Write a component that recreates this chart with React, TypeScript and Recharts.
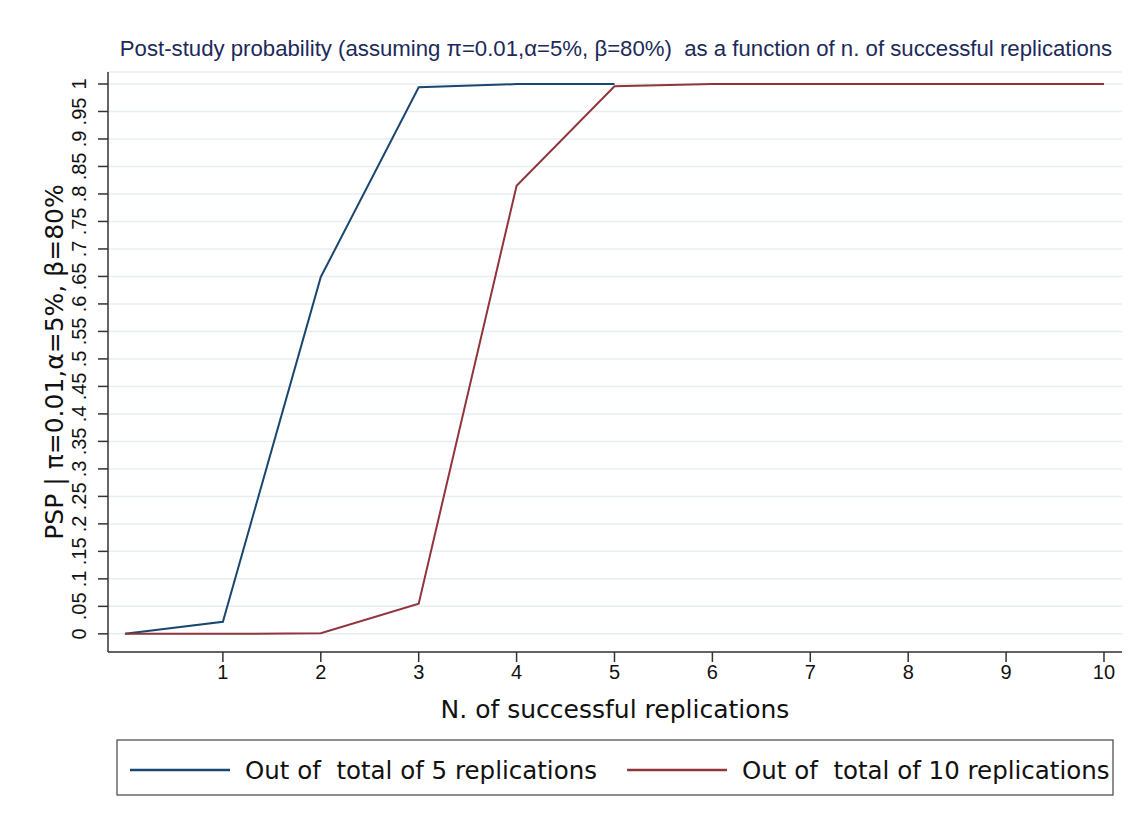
import React from "react";
import { LineChart, Line, XAxis, YAxis, CartesianGrid } from "recharts";

// ---- data ----
const xValues = [0, 1, 2, 3, 4, 5, 6, 7, 8, 9, 10];
const psp5 = [0, 0.022, 0.649, 0.994, 0.9998, 1.0];
const psp10 = [0, 0.0001, 0.001, 0.055, 0.815, 0.996, 1.0, 1.0, 1.0, 1.0, 1.0];
const xTicks = [1, 2, 3, 4, 5, 6, 7, 8, 9, 10];
const yTicks = [0, 0.05, 0.1, 0.15, 0.2, 0.25, 0.3, 0.35, 0.4, 0.45, 0.5, 0.55, 0.6, 0.65, 0.7, 0.75, 0.8, 0.85, 0.9, 0.95, 1];
const yTickLabels = ["0", ".05", ".1", ".15", ".2", ".25", ".3", ".35", ".4", ".45", ".5", ".55", ".6", ".65", ".7", ".75", ".8", ".85", ".9", ".95", "1"];
const seriesNames = ["Out of  total of 5 replications", "Out of  total of 10 replications"];
const seriesKeys = ["five", "ten"];
const seriesColors = ["#1a476f", "#90353b"];
const titleText = "Post-study probability (assuming \u03c0=0.01,\u03b1=5%, \u03b2=80%)  as a function of n. of successful replications";
const xTitle = "N. of successful replications";
const yTitle = "PSP | \u03c0=0.01,\u03b1=5%, \u03b2=80%";

const data = xValues.map((x, i) => ({ x, five: psp5[i], ten: psp10[i] }));

const W = 1143;
const H = 831;
const ARIAL = "'Liberation Sans', Arial, Helvetica, sans-serif";
const WIDE = "'DejaVu Sans', Verdana, sans-serif";
const AXIS = "#333333";

const YTick = (props: any) => {
  const { x, y, payload } = props;
  const label = yTickLabels[yTicks.indexOf(payload.value)];
  return (
    <text
      transform={`translate(${x - 10},${y}) rotate(-90)`}
      textAnchor="middle"
      fontFamily={ARIAL}
      fontSize={20}
      fill="#111"
    >
      {label}
    </text>
  );
};

const XTick = (props: any) => {
  const { x, y, payload } = props;
  return (
    <text x={x} y={y + 15} textAnchor="middle" fontFamily={ARIAL} fontSize={20} fill="#111">
      {String(payload.value)}
    </text>
  );
};

const YLabel = (props: any) => {
  const vb = props.viewBox || { x: 8, y: 72, width: 100, height: 580 };
  const cx = vb.x + 55;
  const cy = vb.y + vb.height / 2;
  return (
    <text
      transform={`translate(${cx},${cy}) rotate(-90)`}
      textAnchor="middle"
      fontFamily={WIDE}
      fontSize={25}
      fill="#111"
    >
      {yTitle}
    </text>
  );
};

const XLabel = (props: any) => {
  const vb = props.viewBox || { x: 108, y: 652, width: 1014, height: 75 };
  return (
    <text
      x={vb.x + vb.width / 2}
      y={vb.y + 66}
      textAnchor="middle"
      fontFamily={WIDE}
      fontSize={25}
      fill="#111"
    >
      {xTitle}
    </text>
  );
};

const legendItemLeft = [13, 510];

export default function App() {
  return (
    <div style={{ position: "absolute", left: 0, top: 0, width: W, height: H, background: "#fff" }}>
      <LineChart
        width={W}
        height={H}
        data={data}
        margin={{ top: 72, right: 21, bottom: 104, left: 8 }}
      >
        <CartesianGrid horizontal={true} vertical={false} stroke="#e8eef0" strokeWidth={1.5} />
        <XAxis
          dataKey="x"
          type="number"
          domain={[-0.1736, 10.184]}
          allowDataOverflow={true}
          ticks={xTicks}
          interval={0}
          height={75}
          tickSize={10}
          tickMargin={2}
          stroke={AXIS}
          strokeWidth={1.5}
          tick={<XTick />}
          label={<XLabel />}
        />
        <YAxis
          type="number"
          domain={[-0.033, 1.0218]}
          allowDataOverflow={true}
          ticks={yTicks}
          interval={0}
          width={100}
          tickSize={10}
          stroke={AXIS}
          strokeWidth={1.5}
          tick={<YTick />}
          label={<YLabel />}
        />
        {seriesKeys.map((k, i) => (
          <Line
            key={k}
            type="linear"
            dataKey={k}
            stroke={seriesColors[i]}
            strokeWidth={2}
            dot={false}
            activeDot={false}
            isAnimationActive={false}
          />
        ))}
      </LineChart>
      <svg
        width={W}
        height={H}
        style={{ position: "absolute", left: 0, top: 0, pointerEvents: "none" }}
      >
        <text
          x={616}
          y={56}
          textAnchor="middle"
          fontFamily={ARIAL}
          fontSize={22.2}
          fill="#1c2a5a"
          style={{ whiteSpace: "pre" }}
        >
          {titleText}
        </text>
        <g transform="translate(117,740)">
          <rect x={0} y={0} width={996} height={55} fill="#fff" stroke="#444" strokeWidth={1.2} />
          {seriesNames.map((name, i) => (
            <g key={name} transform={`translate(${legendItemLeft[i]},30)`}>
              <line x1={0} y1={0} x2={100} y2={0} stroke={seriesColors[i]} strokeWidth={2.5} />
              <text
                x={115}
                y={9}
                fontFamily={WIDE}
                fontSize={24.5}
                fill="#111"
                style={{ whiteSpace: "pre" }}
              >
                {name}
              </text>
            </g>
          ))}
        </g>
      </svg>
    </div>
  );
}
